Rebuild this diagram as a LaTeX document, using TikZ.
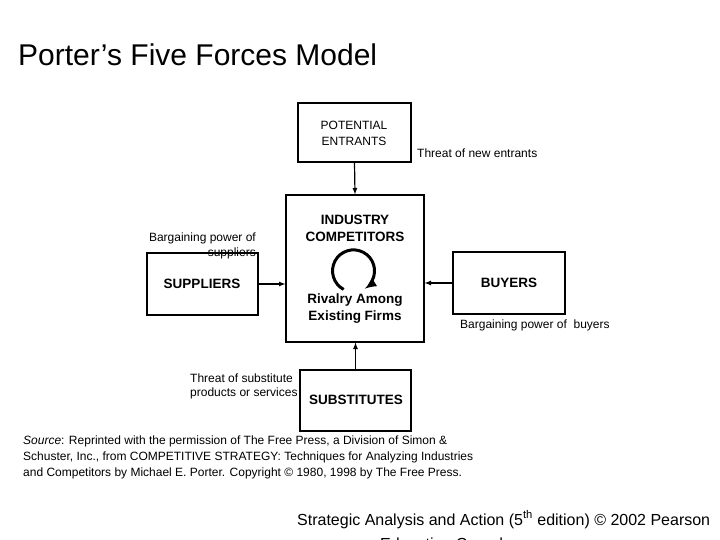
\documentclass[tikz,border=0pt]{standalone}
\usepackage{fontspec}
\setmainfont{Liberation Sans}
\begin{document}
\begin{tikzpicture}[x=1pt,y=-1pt,
 box/.style={draw,line width=1.2pt,inner sep=0pt},
 lab/.style={font=\fontsize{12}{14}\selectfont,inner sep=0pt,align=left},
 btxt/.style={font=\fontsize{13.5}{17}\selectfont\bfseries,inner sep=0pt,align=center},
 arr/.style={-latex,line width=1.2pt}]
\useasboundingbox (0,0) rectangle (720,540);
\clip (0,0) rectangle (720,540);
\node[anchor=base west,inner sep=0pt,font=\fontsize{30}{34}\selectfont] (title) at (18,66) {Porter’s Five Forces Model};
\node[box,minimum width=113,minimum height=59] (ent) at (354.5,132.5) {};
\node[box,minimum width=138,minimum height=147] (ind) at (355,268.5) {};
\node[box,minimum width=111,minimum height=62] (sup) at (202.5,284) {};
\node[box,minimum width=112,minimum height=62] (buy) at (509,283) {};
\node[box,minimum width=111,minimum height=61] (subs) at (355.5,400.5) {};
\node[lab,align=center,font=\fontsize{12}{16}\selectfont] (tent) at (354,133) {POTENTIAL\\ENTRANTS};
\node[btxt] (tind) at (355,228) {INDUSTRY\\COMPETITORS};
\node[btxt] (triv) at (355,309) {Rivalry Among\\Existing Firms};
\node[btxt] (tsup) at (202,284) {SUPPLIERS};
\node[btxt] (tbuy) at (509,283) {BUYERS};
\node[btxt] (tsub) at (356,400) {SUBSTITUTES};
\node[lab,anchor=base west] (l1) at (417,158) {Threat of new entrants};
\node[lab,anchor=north east,align=right,font=\fontsize{12}{15}\selectfont] (l2) at (256,233) {Bargaining power of\\suppliers};
\node[lab,anchor=base west] (l3) at (460,328) {Bargaining power of\ \ buyers};
\node[lab,anchor=north west,font=\fontsize{12}{14}\selectfont] (l4) at (190,374) {Threat of substitute\\products or services};
\draw[arr] (ent.south) -- (ind.north);
\draw[arr] (sup.east) -- (ind.west|-sup.east);
\draw[arr] (buy.west) -- (ind.east|-buy.west);
\draw[arr] (subs.north) -- (ind.south-|subs.north);
\coordinate (rc) at (354,270);
\draw[line width=3pt,-latex] (rc) ++(118:22) arc[start angle=118,end angle=418,x radius=21,y radius=21];
\node[anchor=base west,inner sep=0pt,font=\fontsize{12}{16}\selectfont,align=left] (src) at (23,476) {\textit{Source}: Reprinted with the permission of The Free Press, a Division of Simon \&\\Schuster, Inc., from COMPETITIVE STRATEGY: Techniques for Analyzing Industries\\and Competitors by Michael E. Porter. Copyright © 1980, 1998 by The Free Press.};
\node[anchor=base west,inner sep=0pt,font=\fontsize{16}{24}\selectfont] (foot) at (297,525) {Strategic Analysis and Action (5\textsuperscript{th} edition) © 2002 Pearson};
\node[anchor=base west,inner sep=0pt,font=\fontsize{16}{24}\selectfont] (foot2) at (380,549) {Education Canada};
\end{tikzpicture}
\end{document}
